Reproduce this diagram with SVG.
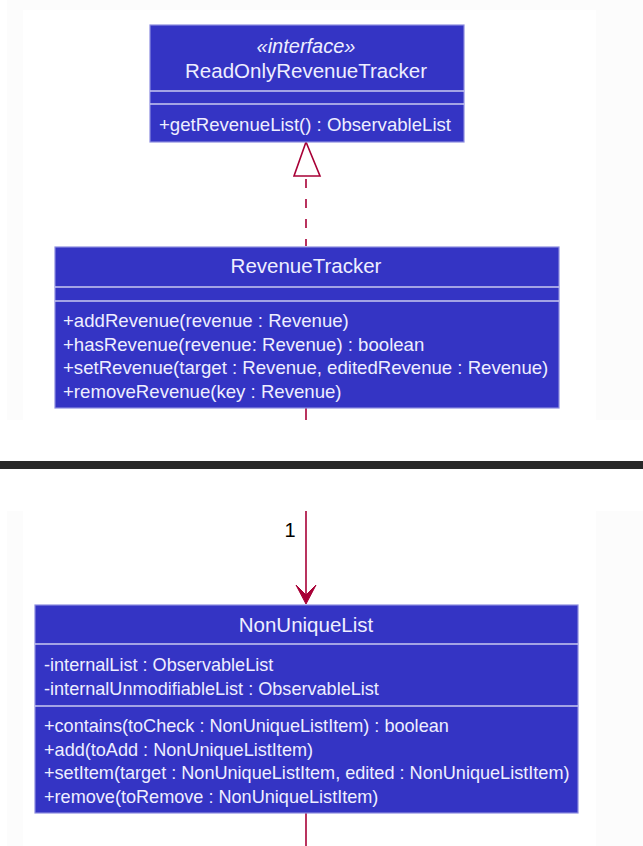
<svg xmlns="http://www.w3.org/2000/svg" width="643" height="846" viewBox="0 0 643 846">
<style>
.box{fill:#3434C4;stroke:#8C8CE0;stroke-width:1.2}
.sep{stroke:#C8C8F0;stroke-width:1.5}
.t{font-family:"Liberation Sans",Arial,sans-serif;fill:#EEEEFF}
.title{font-size:20.5px;text-anchor:middle}
.st{font-size:20px;font-style:italic;text-anchor:middle}
.m{font-size:18.6px}
.m2{font-size:18.1px}
.edge{stroke:#A80036;stroke-width:1.6;fill:none}
</style>
<rect width="643" height="846" fill="#ffffff"/>
<rect x="7" y="0" width="636" height="420" fill="#fcfcfc"/>
<rect x="23" y="10" width="573" height="410" fill="#ffffff"/>
<rect x="0" y="461" width="643" height="8" fill="#282828"/>
<rect x="7" y="511" width="636" height="335" fill="#fcfcfc"/>
<rect x="23" y="511" width="573" height="335" fill="#ffffff"/>

<g id="connectors">
  <line class="edge" x1="306" y1="179" x2="306" y2="246" stroke-dasharray="9,11"/>
  <polygon points="306,142 294,176 320,176" fill="#ffffff" stroke="#A80036" stroke-width="1.6"/>
  <line class="edge" x1="306" y1="408" x2="306" y2="420"/>
  <line class="edge" x1="306" y1="511" x2="306" y2="600"/>
  <polygon points="306,604 296,585 306,595 316,585" fill="#A80036" stroke="#A80036" stroke-width="1"/>
  <text x="290" y="537" font-family="'Liberation Sans',Arial,sans-serif" font-size="20" fill="#000000" text-anchor="middle">1</text>
  <line class="edge" x1="306" y1="813" x2="306" y2="846"/>
</g>

<g id="ReadOnlyRevenueTracker">
  <rect class="box" x="150" y="25" width="314" height="117"/>
  <text class="t st" x="306" y="53">«interface»</text>
  <text class="t title" x="306" y="78">ReadOnlyRevenueTracker</text>
  <line class="sep" x1="150" y1="91" x2="464" y2="91"/>
  <line class="sep" x1="150" y1="104" x2="464" y2="104"/>
  <text class="t m" x="159" y="131">+getRevenueList() : ObservableList</text>
</g>

<g id="RevenueTracker">
  <rect class="box" x="55" y="247" width="504" height="161"/>
  <text class="t title" x="306" y="273">RevenueTracker</text>
  <line class="sep" x1="55" y1="287" x2="559" y2="287"/>
  <line class="sep" x1="55" y1="301" x2="559" y2="301"/>
  <text class="t m" x="63" y="327">+addRevenue(revenue : Revenue)</text>
  <text class="t m" x="63" y="350.5">+hasRevenue(revenue: Revenue) : boolean</text>
  <text class="t m" x="63" y="374">+setRevenue(target : Revenue, editedRevenue : Revenue)</text>
  <text class="t m" x="63" y="397.5">+removeRevenue(key : Revenue)</text>
</g>

<g id="NonUniqueList">
  <rect class="box" x="35" y="605" width="543" height="208"/>
  <text class="t title" x="306" y="632">NonUniqueList</text>
  <line class="sep" x1="35" y1="644" x2="578" y2="644"/>
  <text class="t m2" x="44" y="671">-internalList : ObservableList</text>
  <text class="t m2" x="44" y="694.5">-internalUnmodifiableList : ObservableList</text>
  <line class="sep" x1="35" y1="706" x2="578" y2="706"/>
  <text class="t m2" x="44" y="731.5">+contains(toCheck : NonUniqueListItem) : boolean</text>
  <text class="t m2" x="44" y="755.5">+add(toAdd : NonUniqueListItem)</text>
  <text class="t m2" x="44" y="779">+setItem(target : NonUniqueListItem, edited : NonUniqueListItem)</text>
  <text class="t m2" x="44" y="802.5">+remove(toRemove : NonUniqueListItem)</text>
</g>
</svg>
